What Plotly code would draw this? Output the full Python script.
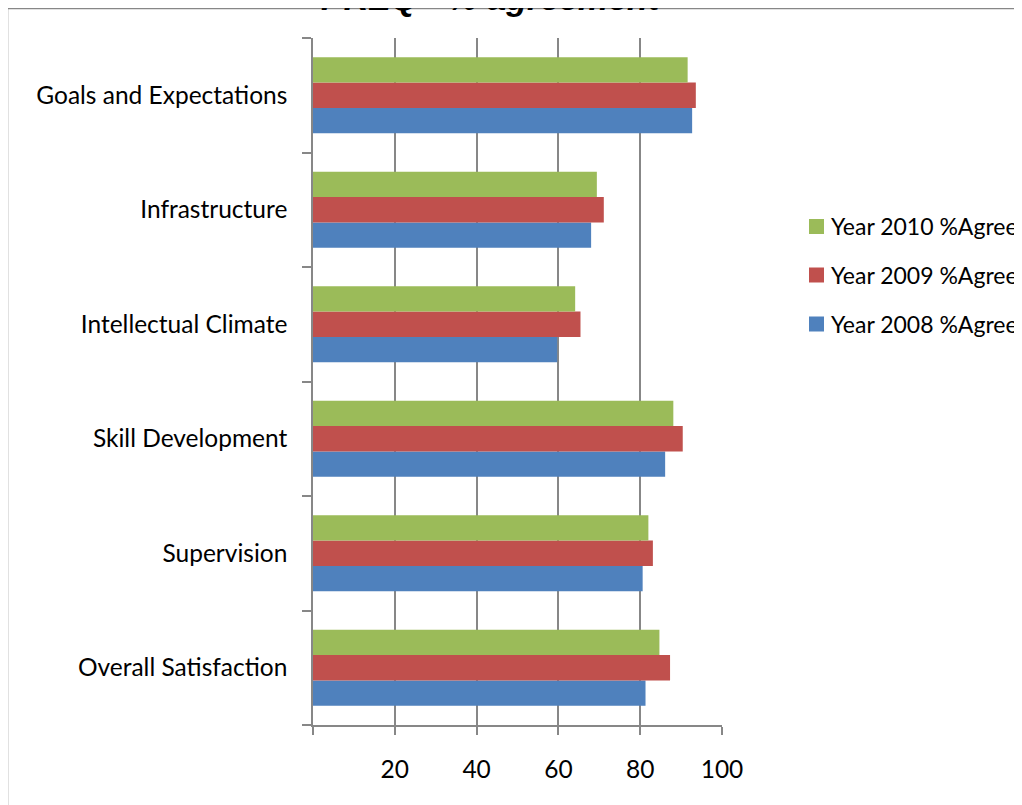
import plotly.graph_objects as go

# ---- data ----
categories = ["Goals and Expectations", "Infrastructure", "Intellectual Climate",
              "Skill Development", "Supervision", "Overall Satisfaction"]
year_2008 = [92.7, 68.0, 59.7, 86.1, 80.6, 81.3]
year_2009 = [93.6, 71.1, 65.4, 90.4, 83.1, 87.3]
year_2010 = [91.6, 69.4, 64.1, 88.1, 82.0, 84.7]
series_names = ["Year 2008 %Agree", "Year 2009 %Agree", "Year 2010 %Agree"]
x_tickvals = [0, 20, 40, 60, 80, 100]
x_ticktext = ["", "20", "40", "60", "80", "100"]
title_text = "PREQ - % agreement"

# ---- style / layout (screen pixel targets; page body adds an 8px offset) ----
OFF = 8
W, H = 1022 - OFF, 805 - OFF
PLOT_L, PLOT_R, PLOT_T, PLOT_B = 313, 722, 38, 725   # screen coords
ML, MT = PLOT_L - OFF, PLOT_T - OFF
PW, PH = PLOT_R - PLOT_L, PLOT_B - PLOT_T
MR, MB = W - ML - PW, H - MT - PH
colors = ["#4F81BD", "#C0504D", "#9BBB59"]
grid = "#878787"
font_family = "Lato, Open Sans, sans-serif"
FS = 24.5
LEG_FS = 23


def px_x(p):
    return (p - PLOT_L) / PW


def px_y(p):
    return (PLOT_B - p) / PH


fig = go.Figure()
for name, vals, col in zip(series_names, [year_2008, year_2009, year_2010], colors):
    fig.add_trace(go.Bar(y=categories, x=vals, name=name, orientation="h",
                         marker=dict(color=col, line=dict(width=0)),
                         showlegend=False))

shapes = [
    dict(type="rect", xref="paper", yref="paper",
         x0=px_x(7.5), x1=px_x(1040), y0=px_y(8.5), y1=px_y(830),
         line=dict(color=grid, width=1.5), fillcolor="rgba(0,0,0,0)", layer="below"),
]
annotations = [
    dict(text="<b><i>%s</i></b>" % title_text, xref="paper", yref="paper",
         x=px_x(491), y=px_y(19), xanchor="center", yanchor="bottom", showarrow=False,
         font=dict(family="Liberation Sans, Arial", size=34, color="#000000")),
]
legend_rows = [(series_names[2], colors[2], 226.5),
               (series_names[1], colors[1], 275.0),
               (series_names[0], colors[0], 324.0)]
for name, col, cy in legend_rows:
    shapes.append(dict(type="rect", xref="paper", yref="paper",
                       x0=px_x(809), x1=px_x(824), y0=px_y(cy - 7.5), y1=px_y(cy + 7.5),
                       line=dict(width=0), fillcolor=col))
    annotations.append(dict(text=name, xref="paper", yref="paper",
                            x=px_x(829), y=px_y(cy), xanchor="left", yanchor="middle",
                            showarrow=False,
                            font=dict(family=font_family, size=LEG_FS, color="#000000")))

fig.update_layout(
    width=W, height=H,
    margin=dict(l=ML, r=MR, t=MT, b=MB, autoexpand=False),
    paper_bgcolor="white", plot_bgcolor="white",
    barmode="group", bargap=0.336, bargroupgap=0,
    font=dict(family=font_family, size=FS, color="#000000"),
    shapes=shapes, annotations=annotations,
    showlegend=False,
    xaxis=dict(range=[0, 100], tickvals=x_tickvals, ticktext=x_ticktext,
               showgrid=True, gridcolor=grid, gridwidth=1.5,
               showline=True, linecolor=grid, linewidth=1.5, zeroline=False,
               ticks="outside", ticklen=8, tickcolor=grid, tickwidth=1.5,
               ticklabelstandoff=14, tickfont=dict(size=FS)),
    yaxis=dict(type="category", categoryorder="array", categoryarray=categories[::-1],
               tickson="boundaries", ticks="outside", ticklen=9, tickcolor=grid,
               tickwidth=1.5, showline=True, linecolor=grid, linewidth=1.5,
               showgrid=False, zeroline=False, ticklabelstandoff=19,
               tickfont=dict(size=FS)),
)

fig.write_html("out.html")
